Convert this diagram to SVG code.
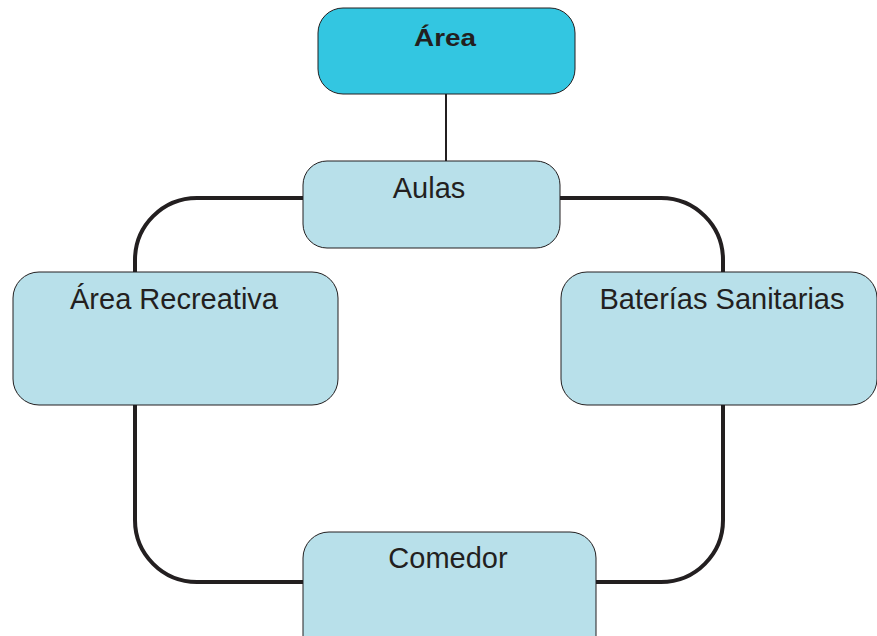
<svg xmlns="http://www.w3.org/2000/svg" width="877" height="636" viewBox="0 0 877 636">
<style>
.node{fill:#B8E0EA;stroke:#231F20;stroke-width:1}
.top{fill:#33C6E1;stroke:#231F20;stroke-width:1}
.lbl{font-family:"Liberation Sans",Arial,sans-serif;font-size:29px;fill:#231F20;text-anchor:middle}
.title{font-family:"Liberation Sans",Arial,sans-serif;font-size:24px;font-weight:bold;fill:#231F20;text-anchor:middle}
.conn{fill:none;stroke:#231F20;stroke-width:4}
.thin{fill:none;stroke:#231F20;stroke-width:2}
</style>
<rect width="877" height="636" fill="#FFFFFF"/>
<g id="connectors">
<line class="thin" x1="446" y1="94" x2="446" y2="161"/>
<path class="conn" d="M303,198 H197 A62,62 0 0 0 135,260 V272"/>
<path class="conn" d="M560,198 H661 A62,62 0 0 1 723,260 V272"/>
<path class="conn" d="M135,405 V520 A62,62 0 0 0 197,582 H303"/>
<path class="conn" d="M723,405 V520 A62,62 0 0 1 661,582 H596"/>
</g>
<g id="node-area">
<rect class="top" x="318" y="8" width="257" height="86" rx="25" ry="25"/>
<text class="title" x="445" y="45.5" textLength="62" lengthAdjust="spacingAndGlyphs">Área</text>
</g>
<g id="node-aulas">
<rect class="node" x="303" y="161" width="257" height="87" rx="24" ry="24"/>
<text class="lbl" x="429" y="198">Aulas</text>
</g>
<g id="node-recreativa">
<rect class="node" x="13" y="272" width="325" height="133" rx="26" ry="26"/>
<text class="lbl" x="174" y="309">Área Recreativa</text>
</g>
<g id="node-banos">
<rect class="node" x="561" y="272" width="316" height="133" rx="26" ry="26"/>
<text class="lbl" x="722" y="309">Baterías Sanitarias</text>
</g>
<g id="node-comedor">
<rect class="node" x="303" y="532" width="293" height="130" rx="26" ry="26"/>
<text class="lbl" x="448" y="568">Comedor</text>
</g>
</svg>
